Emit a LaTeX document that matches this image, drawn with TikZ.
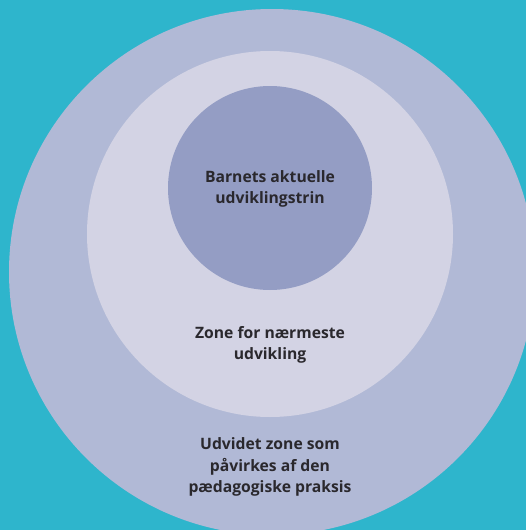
\documentclass[tikz,border=0pt]{standalone}
\usepackage{fontspec}
\setmainfont{Open Sans}
\definecolor{bgteal}{HTML}{2EB5CC}
\definecolor{outerc}{HTML}{B1B9D6}
\definecolor{midc}{HTML}{D3D3E4}
\definecolor{innerc}{HTML}{949DC4}
\definecolor{txt}{HTML}{2A282D}
\begin{document}
\begin{tikzpicture}[x=1pt,y=-1pt,
  zone/.style={circle,draw=none,inner sep=0pt,minimum size=#1},
  lbl/.style={align=center,text=txt,font=\fontsize{15.7}{21.5}\selectfont\bfseries}]
\useasboundingbox (0,0) rectangle (526,530);
\fill[bgteal] (0,0) rectangle (526,530);
\clip (0,0) rectangle (526,530);
\node[zone=526pt,fill=outerc] (outer) at (272,272) {};
\node[zone=366pt,fill=midc] (middle) at (270,234) {};
\node[zone=204pt,fill=innerc] (inner) at (270,188) {};
\node[lbl] (t1) at (270,189) {Barnets aktuelle\\udviklingstrin};
\node[lbl] (t2) at (270,345) {Zone for nærmeste\\udvikling};
\node[lbl] (t3) at (270,467) {Udvidet zone som\\påvirkes af den\\pædagogiske praksis};
\end{tikzpicture}
\end{document}
